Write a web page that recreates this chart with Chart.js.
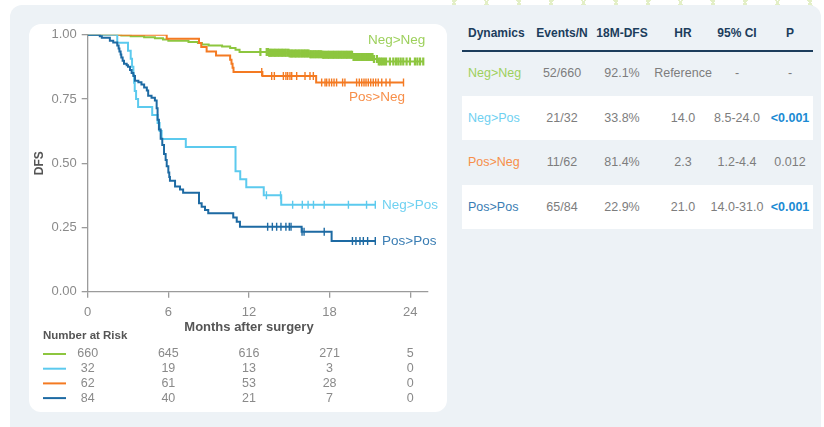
<!DOCTYPE html>
<html>
<head>
<meta charset="utf-8">
<script src="https://cdn.jsdelivr.net/npm/chart.js@4.4.1/dist/chart.umd.min.js"></script>
<style>
  html, body { margin: 0; padding: 0; background: #fff; }
  body { width: 824px; height: 427px; position: relative; overflow: hidden;
         font-family: "Liberation Sans", Arial, Helvetica, sans-serif; }
  .deco { position: absolute; left: 440px; top: 0; width: 384px; height: 6px;
          background:
            repeating-linear-gradient(60deg, transparent 0 13px, #e3efc6 13px 15px, transparent 15px 28px),
            repeating-linear-gradient(-60deg, transparent 0 13px, #e3efc6 13px 15px, transparent 15px 28px); }
  .panel { position: absolute; left: 10px; top: 5px; width: 811px; height: 440px;
           background: #edf2f6; border-radius: 12px; }
  .card { position: absolute; left: 29px; top: 24px; width: 418px; height: 388px;
          background: #fff; border-radius: 12px; }
  .chart-box { position: absolute; left: 0; top: 0; width: 447px; height: 427px; }
  .tbl { position: absolute; left: 462px; top: 0; width: 351px; height: 240px; }
  .tbl .band { position: absolute; left: 0; width: 351px; height: 44.5px; background: #fff; }
  .tbl .rule { position: absolute; left: 0; top: 50px; width: 351px; height: 2px; background: #1c3d5c; }
  .tbl .cell { position: absolute; white-space: nowrap; font-size: 12.5px; color: #7d7d7d;
               line-height: 16px; transform: translate(-50%, -50%); }
  .tbl .cell.left { transform: translate(0, -50%); }
  .tbl .head { font-weight: bold; font-size: 12px; color: #1c3d5c; }
  .tbl .sig { font-weight: bold; color: #1b8ad3; }
</style>
</head>
<body>
<div class="deco"></div>
<div class="panel"></div>
<div class="card"></div>
<div class="chart-box"><canvas id="km-canvas"></canvas></div>
<div class="tbl" id="km-table"></div>

<script>
// ---- data ----
const monthTicks = [0, 6, 12, 18, 24];
const dfsTicks = [0, 0.25, 0.5, 0.75, 1];

// Neg>Neg
const nnTime = [0, 2.5, 3.2, 4.2, 5.0, 5.6, 6.0, 7.5, 8.2, 8.5, 9.0, 10.0, 10.6, 11.0, 11.3, 13.5, 15.0, 16.5, 17.5, 19.7, 21.3, 21.6, 25.0];
const nnSurv = [1, 0.997, 0.994, 0.99, 0.986, 0.981, 0.976, 0.972, 0.968, 0.962, 0.958, 0.954, 0.948, 0.941, 0.933, 0.930, 0.927, 0.924, 0.922, 0.913, 0.905, 0.896, 0.896];
const nnCens = [12.85, 13.32, 13.41, 13.5, 13.56, 13.66, 13.73, 13.85, 13.92, 14.01, 14.12, 14.2, 14.27, 14.39, 14.48, 14.55,
  14.67, 14.74, 14.86, 14.95, 15.03, 15.14, 15.22, 15.31, 15.42, 15.5, 15.61, 15.7, 15.78, 15.9, 15.97, 16.08, 16.16, 16.27,
  16.35, 16.44, 16.56, 16.63, 16.74, 16.82, 16.93, 17.01, 17.12, 17.2, 17.31, 17.39, 17.5, 17.58, 17.69, 17.77, 17.88, 17.96,
  18.07, 18.15, 18.26, 18.34, 18.45, 18.53, 18.64, 18.72, 18.83, 18.91, 19.02, 19.1, 19.21, 19.29, 19.4, 19.48, 19.59, 19.67,
  19.78, 19.86, 19.97, 20.05, 20.16, 20.24, 20.35, 20.43, 20.54, 20.62, 20.73, 20.81, 20.92, 21.0, 21.11, 21.19, 21.3, 21.52,
  21.66, 21.78, 21.9, 22.05, 22.2, 22.49, 22.74, 22.94, 23.11, 23.29, 23.48, 23.73, 23.98, 24.35, 24.53, 24.73, 24.97];

// Neg>Pos
const npTime = [0, 2.2, 3.0, 3.2, 3.3, 3.4, 3.45, 3.5, 3.6, 3.75, 4.8, 5.2, 5.35, 5.5, 7.3, 11.0, 11.35, 11.8, 13.1, 14.4, 21.4];
const npSurv = [1, 0.969, 0.938, 0.906, 0.875, 0.844, 0.813, 0.781, 0.750, 0.719, 0.688, 0.656, 0.625, 0.594, 0.563, 0.469, 0.438, 0.406, 0.375, 0.338, 0.338];
const npCens = [13.3, 14.35, 15.25, 15.97, 16.4, 16.8, 17.6, 19.4, 20.75, 21.4];

// Pos>Neg
const pnTime = [0, 5.88, 8.28, 8.45, 8.85, 9.55, 10.6, 10.7, 10.78, 10.85, 13.0, 17.0, 23.5];
const pnSurv = [1, 0.984, 0.968, 0.952, 0.935, 0.919, 0.903, 0.887, 0.871, 0.855, 0.839, 0.814, 0.814];
const pnCens = [12.95, 13.69, 13.89, 14.56, 14.75, 14.88, 15.05, 15.18, 15.55, 16.17, 16.54, 16.79, 17.41, 17.66, 17.78,
  17.97, 18.15, 18.33, 18.52, 18.97, 19.14, 20.01, 20.21, 20.39, 20.56, 20.71, 20.88, 21.06, 21.25, 21.43, 21.62, 21.88,
  22.2, 22.49, 23.5];

// Pos>Pos
const ppTime = [0, 0.9, 1.05, 1.65, 1.9, 2.2, 2.3, 2.36, 2.45, 2.5, 2.6, 2.7, 2.9, 3.0, 3.15, 3.27, 3.4, 3.52, 3.77, 4.0,
  4.2, 4.4, 4.5, 4.75, 5.0, 5.13, 5.2, 5.3, 5.43, 5.55, 5.68, 5.8, 5.88, 6.0, 6.07, 6.12, 6.5, 6.87, 7.1, 8.28, 8.48, 8.73,
  8.97, 10.83, 11.09, 11.33, 15.92, 18.15, 21.4];
const ppSurv = [1, 0.994, 0.988, 0.976, 0.970, 0.958, 0.946, 0.935, 0.923, 0.911, 0.899, 0.887, 0.881, 0.875, 0.863, 0.851,
  0.839, 0.821, 0.815, 0.806, 0.795, 0.783, 0.762, 0.755, 0.744, 0.714, 0.669, 0.631, 0.595, 0.571, 0.536, 0.512, 0.488,
  0.464, 0.446, 0.432, 0.409, 0.398, 0.385, 0.344, 0.331, 0.318, 0.305, 0.289, 0.272, 0.253, 0.233, 0.197, 0.197];
const ppCens = [13.39, 13.74, 14.06, 14.38, 14.75, 15.0, 15.13, 15.95, 16.1, 17.6, 19.7, 19.96, 20.26, 20.51, 20.83, 21.4];

// number at risk (rows: Neg>Neg, Neg>Pos, Pos>Neg, Pos>Pos)
const riskTimes = [0, 6, 12, 18, 24];
const nnRisk = [660, 645, 616, 271, 5];
const npRisk = [32, 19, 13, 3, 0];
const pnRisk = [62, 61, 53, 28, 0];
const ppRisk = [84, 40, 21, 7, 0];

// side table
const tblHead = ["Dynamics", "Events/N", "18M-DFS", "HR", "95% CI", "P"];
const tblGroup = ["Neg>Neg", "Neg>Pos", "Pos>Neg", "Pos>Pos"];
const tblEvents = ["52/660", "21/32", "11/62", "65/84"];
const tblDfs = ["92.1%", "33.8%", "81.4%", "22.9%"];
const tblHr = ["Reference", "14.0", "2.3", "21.0"];
const tblCi = ["-", "8.5-24.0", "1.2-4.4", "14.0-31.0"];
const tblP = ["-", "<0.001", "0.012", "<0.001"];

// ---- styling ----
const FONT = '"Liberation Sans", Arial, Helvetica, sans-serif';
const AXIS = "#9b9b9b";
const TICK = "#8a8a8a";
const TITLE = "#555";
const C = {
  nn: { line: "#8dc63f", text: "#9dd05c", tick: 2.2 },
  np: { line: "#5ccaee", text: "#6fd1f1", tick: 1.4 },
  pn: { line: "#f47a22", text: "#f78f4a", tick: 1.4 },
  pp: { line: "#1d6aa3", text: "#3a7db3", tick: 1.4 },
};

const series = [
  { key: "pp", name: "Pos>Pos", time: ppTime, surv: ppSurv, cens: ppCens, risk: ppRisk, label: [21.9, 0.198] },
  { key: "np", name: "Neg>Pos", time: npTime, surv: npSurv, cens: npCens, risk: npRisk, label: [21.9, 0.338] },
  { key: "pn", name: "Pos>Neg", time: pnTime, surv: pnSurv, cens: pnCens, risk: pnRisk, label: [19.45, 0.756] },
  { key: "nn", name: "Neg>Neg", time: nnTime, surv: nnSurv, cens: nnCens, risk: nnRisk, label: [20.85, 0.977] },
];
const riskOrder = ["nn", "np", "pn", "pp"];

// survival level at time t (step function)
function survAt(s, t) {
  let v = s.surv[0];
  for (let i = 0; i < s.time.length; i++) if (s.time[i] <= t) v = s.surv[i];
  return v;
}

const datasets = [];
series.forEach((s) => {
  datasets.push({
    data: s.time.map((t, i) => ({ x: t, y: s.surv[i] })),
    stepped: "before",
    borderColor: C[s.key].line,
    borderWidth: 2,
    pointRadius: 0,
    fill: false,
  });
  datasets.push({
    data: s.cens.map((t) => ({ x: t, y: survAt(s, t) })),
    showLine: false,
    pointStyle: "line",
    pointRotation: 90,
    pointRadius: 4,
    pointBorderColor: C[s.key].line,
    pointBorderWidth: C[s.key].tick,
    pointHoverRadius: 4,
  });
});

// text drawn on the canvas: axis titles, curve labels, number-at-risk
const kmText = {
  id: "kmText",
  afterDraw(chart) {
    const { ctx, scales: { x, y } } = chart;
    ctx.save();
    ctx.fillStyle = TITLE;
    ctx.font = `bold 12px ${FONT}`;
    ctx.textAlign = "center";
    ctx.textBaseline = "middle";
    ctx.translate(40, y.getPixelForValue(0.5));
    ctx.rotate(-Math.PI / 2);
    ctx.fillText("DFS", 0, 0);
    ctx.restore();

    ctx.save();
    ctx.fillStyle = TITLE;
    ctx.font = `bold 13px ${FONT}`;
    ctx.textAlign = "center";
    ctx.textBaseline = "middle";
    ctx.fillText("Months after surgery", (x.getPixelForValue(0) + x.getPixelForValue(24)) / 2, 327);

    // curve labels
    ctx.font = `13.5px ${FONT}`;
    ctx.textAlign = "left";
    series.forEach((s) => {
      ctx.fillStyle = C[s.key].text;
      ctx.fillText(s.name, x.getPixelForValue(s.label[0]), y.getPixelForValue(s.label[1]));
    });

    // number at risk
    ctx.fillStyle = TITLE;
    ctx.font = `bold 11.5px ${FONT}`;
    ctx.fillText("Number at Risk", 43, 336);
    ctx.font = `12.5px ${FONT}`;
    ctx.textAlign = "center";
    riskOrder.forEach((k, r) => {
      const s = series.find((d) => d.key === k);
      const yy = 354 + r * 14.7;
      ctx.strokeStyle = C[k].line;
      ctx.lineWidth = 2;
      ctx.beginPath();
      ctx.moveTo(43, yy);
      ctx.lineTo(66, yy);
      ctx.stroke();
      ctx.fillStyle = TICK;
      s.risk.forEach((n, j) => ctx.fillText(String(n), x.getPixelForValue(riskTimes[j]), yy));
    });
    ctx.restore();
  },
};

/* global Chart */
new Chart(document.getElementById("km-canvas"), {
  type: "line",
  data: { datasets },
  plugins: [kmText],
  options: {
    responsive: true,
    maintainAspectRatio: false,
    animation: false,
    events: [],
    layout: { padding: { left: 0, right: 19.3, top: 34.7, bottom: 105.3 } },
    plugins: { legend: { display: false }, tooltip: { enabled: false } },
    scales: {
      x: {
        type: "linear",
        min: 0,
        max: 25.3,
        afterBuildTicks: (s) => { s.ticks = monthTicks.map((v) => ({ value: v })); },
        afterFit: (s) => { s.height = 30; },
        grid: { display: true, drawOnChartArea: false, drawTicks: true, tickLength: 6, color: AXIS, lineWidth: 1.3 },
        border: { display: true, color: AXIS, width: 1.3 },
        ticks: { color: TICK, font: { size: 13, family: FONT }, padding: 7, maxRotation: 0, autoSkip: false },
      },
      y: {
        type: "linear",
        min: 0,
        max: 1,
        afterBuildTicks: (s) => { s.ticks = dfsTicks.map((v) => ({ value: v })); },
        afterFit: (s) => { s.width = 87.7; },
        grid: { display: true, drawOnChartArea: false, drawTicks: true, tickLength: 6, color: AXIS, lineWidth: 1.3 },
        border: { display: true, color: AXIS, width: 1.3 },
        ticks: { color: TICK, font: { size: 13, family: FONT }, padding: 5, callback: (v) => v.toFixed(2) },
      },
    },
  },
});

// ---- side table ----
const tbl = document.getElementById("km-table");
const colX = [6, 100, 160, 221, 275, 328];   // 0 = left edge for names, others are centres
const rowY = [73, 118, 162, 207];
[1, 3].forEach((r) => {
  const b = document.createElement("div");
  b.className = "band";
  b.style.top = (rowY[r] - 22.5) + "px";
  tbl.appendChild(b);
});
const rule = document.createElement("div");
rule.className = "rule";
tbl.appendChild(rule);

function cell(text, col, yy, cls, color) {
  const d = document.createElement("div");
  d.className = "cell " + (cls || "") + (col === 0 ? " left" : "");
  d.textContent = text;
  d.style.left = colX[col] + "px";
  d.style.top = yy + "px";
  if (color) d.style.color = color;
  tbl.appendChild(d);
}
tblHead.forEach((h, i) => cell(h, i, 33, "head"));
const cols = [tblEvents, tblDfs, tblHr, tblCi, tblP];
tblGroup.forEach((g, r) => {
  cell(g, 0, rowY[r], "", C[riskOrder[r]].text);
  cols.forEach((col, c) => {
    const v = col[r];
    cell(v, c + 1, rowY[r], c === 4 && v.startsWith("<") ? "sig" : "");
  });
});
</script>
</body>
</html>
